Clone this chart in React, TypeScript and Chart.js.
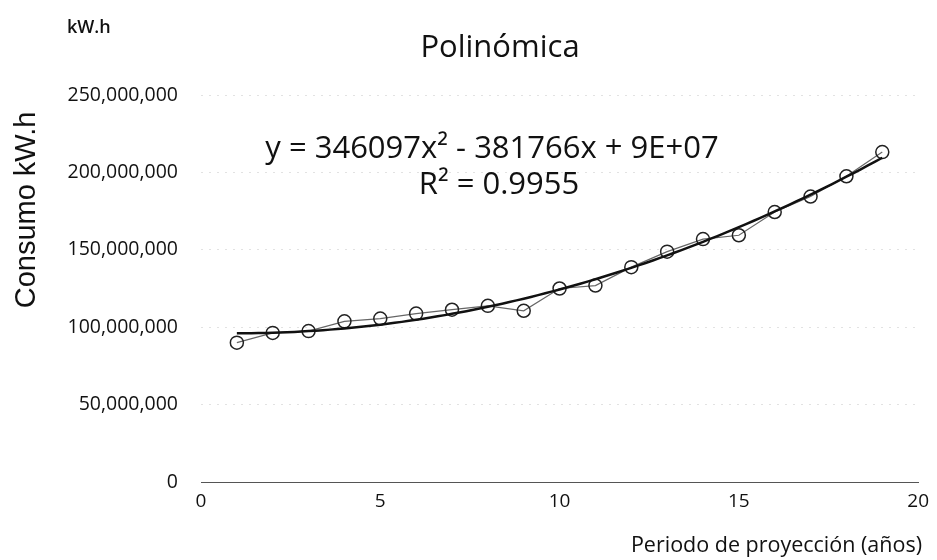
import React, { useEffect, useRef } from "react";
import { Chart, registerables } from "chart.js";

Chart.register(...registerables);

const years = [1, 2, 3, 4, 5, 6, 7, 8, 9, 10, 11, 12, 13, 14, 15, 16, 17, 18, 19];
const consumo = [
  90.0e6, 96.3e6, 97.5e6, 103.8e6, 105.6e6, 108.8e6, 111.3e6, 113.8e6, 110.6e6, 125.0e6,
  126.9e6, 138.8e6, 148.8e6, 156.9e6, 159.4e6, 174.4e6, 184.4e6, 197.5e6, 213.1e6,
];
const yTicks = [0, 50e6, 100e6, 150e6, 200e6, 250e6];
const xTicks = [0, 5, 10, 15, 20];

const titleText = "Polinómica";
const unitText = "kW.h";
const yTitle = "Consumo kW.h";
const xTitle = "Periodo de proyección (años)";
const eqText = "y = 346097x² - 381766x + 9E+07";
const r2Text = "R² = 0.9955";

// Least-squares quadratic fit of the data (as the spreadsheet trendline does)
function fitQuadratic(xs: number[], ys: number[]) {
  let s0 = 0, s1 = 0, s2 = 0, s3 = 0, s4 = 0, t0 = 0, t1 = 0, t2 = 0;
  for (let i = 0; i < xs.length; i++) {
    const x = xs[i], y = ys[i];
    s0 += 1; s1 += x; s2 += x * x; s3 += x * x * x; s4 += x * x * x * x;
    t0 += y; t1 += x * y; t2 += x * x * y;
  }
  const M = [
    [s4, s3, s2, t2],
    [s3, s2, s1, t1],
    [s2, s1, s0, t0],
  ];
  for (let c = 0; c < 3; c++) {
    for (let r = c + 1; r < 3; r++) {
      const f = M[r][c] / M[c][c];
      for (let k = c; k < 4; k++) M[r][k] -= f * M[c][k];
    }
  }
  const sol = [0, 0, 0];
  for (let r = 2; r >= 0; r--) {
    let v = M[r][3];
    for (let k = r + 1; k < 3; k++) v -= M[r][k] * sol[k];
    sol[r] = v / M[r][r];
  }
  return sol; // a, b, c
}

export default function App() {
  const ref = useRef<HTMLCanvasElement | null>(null);

  useEffect(() => {
    const canvas = ref.current;
    if (!canvas) return;
    const [a, b, c] = fitQuadratic(years, consumo);
    const trend: { x: number; y: number }[] = [];
    const x0 = years[0], x1 = years[years.length - 1];
    const steps = 90;
    for (let i = 0; i <= steps; i++) {
      const x = x0 + ((x1 - x0) * i) / steps;
      trend.push({ x, y: a * x * x + b * x + c });
    }

    const textPlugin = {
      id: "texts",
      afterDraw(chart: any) {
        const ctx = chart.ctx as CanvasRenderingContext2D;
        ctx.save();
        ctx.fillStyle = "#111";
        ctx.textBaseline = "alphabetic";
        ctx.textAlign = "left";
        ctx.font = "600 18px 'Open Sans'";
        ctx.fillText(unitText, 67, 33);
        ctx.textAlign = "center";
        ctx.font = "31px 'Open Sans'";
        ctx.fillText(titleText, 500, 57);
        ctx.font = "31px 'Open Sans'";
        ctx.fillText(eqText, 492, 158);
        ctx.fillText(r2Text, 499, 194);
        ctx.textAlign = "right";
        ctx.font = "21.5px 'Open Sans'";
        ctx.fillText(xTitle, 922, 552);
        ctx.translate(27, 210);
        ctx.rotate(-Math.PI / 2);
        ctx.textAlign = "center";
        ctx.textBaseline = "middle";
        ctx.font = "29px 'Liberation Sans'";
        ctx.fillText(yTitle, 0, 0);
        ctx.restore();
      },
    };

    const chart = new Chart(canvas, {
      type: "scatter",
      data: {
        datasets: [
          {
            label: "Tendencia",
            data: trend,
            showLine: true,
            borderColor: "#111",
            borderWidth: 2.5,
            pointRadius: 0,
            order: 0,
          },
          {
            label: "Consumo",
            data: years.map((x, i) => ({ x, y: consumo[i] })),
            showLine: true,
            borderColor: "#666",
            borderWidth: 1.2,
            pointRadius: 6.5,
            pointBackgroundColor: "rgba(255,255,255,0)",
            pointBorderColor: "#222",
            pointBorderWidth: 1.5,
            order: 1,
          },
        ],
      },
      options: {
        animation: false,
        responsive: false,
        maintainAspectRatio: false,
        layout: { padding: { top: 95, right: 12, left: 0, bottom: 0 } },
        plugins: {
          legend: { display: false },
          title: { display: false },
          tooltip: { enabled: false },
        },
        scales: {
          x: {
            type: "linear",
            min: 0,
            max: 20,
            afterBuildTicks: (s: any) => {
              s.ticks = xTicks.map((v) => ({ value: v }));
            },
            afterFit: (s: any) => {
              s.height = 78;
            },
            grid: { display: false, drawTicks: false },
            border: { display: true, color: "#555", width: 1 },
            ticks: {
              padding: 8,
              color: "#111",
              font: { family: "'Open Sans'", size: 19 },
            },
          },
          y: {
            type: "linear",
            min: 0,
            max: 250e6,
            afterBuildTicks: (s: any) => {
              s.ticks = yTicks.map((v) => ({ value: v }));
            },
            afterFit: (s: any) => {
              s.width = 201;
            },
            grid: {
              drawTicks: false,
              color: (ctx: any) => (ctx.tick && ctx.tick.value === 0 ? "rgba(0,0,0,0)" : "#e2e2e2"),
              lineWidth: 1,
            },
            border: { display: false, dash: [2, 6] },
            ticks: {
              padding: 23,
              color: "#111",
              font: { family: "'Open Sans'", size: 19.5 },
              callback: (v: any) => Number(v).toLocaleString("en-US"),
            },
          },
        },
      },
      plugins: [textPlugin],
    } as any);

    return () => chart.destroy();
  }, []);

  return (
    <div style={{ position: "fixed", left: 0, top: 0, width: 937, height: 560, background: "#fff" }}>
      <canvas ref={ref} width={937} height={560} style={{ width: 937, height: 560, display: "block" }} />
    </div>
  );
}
